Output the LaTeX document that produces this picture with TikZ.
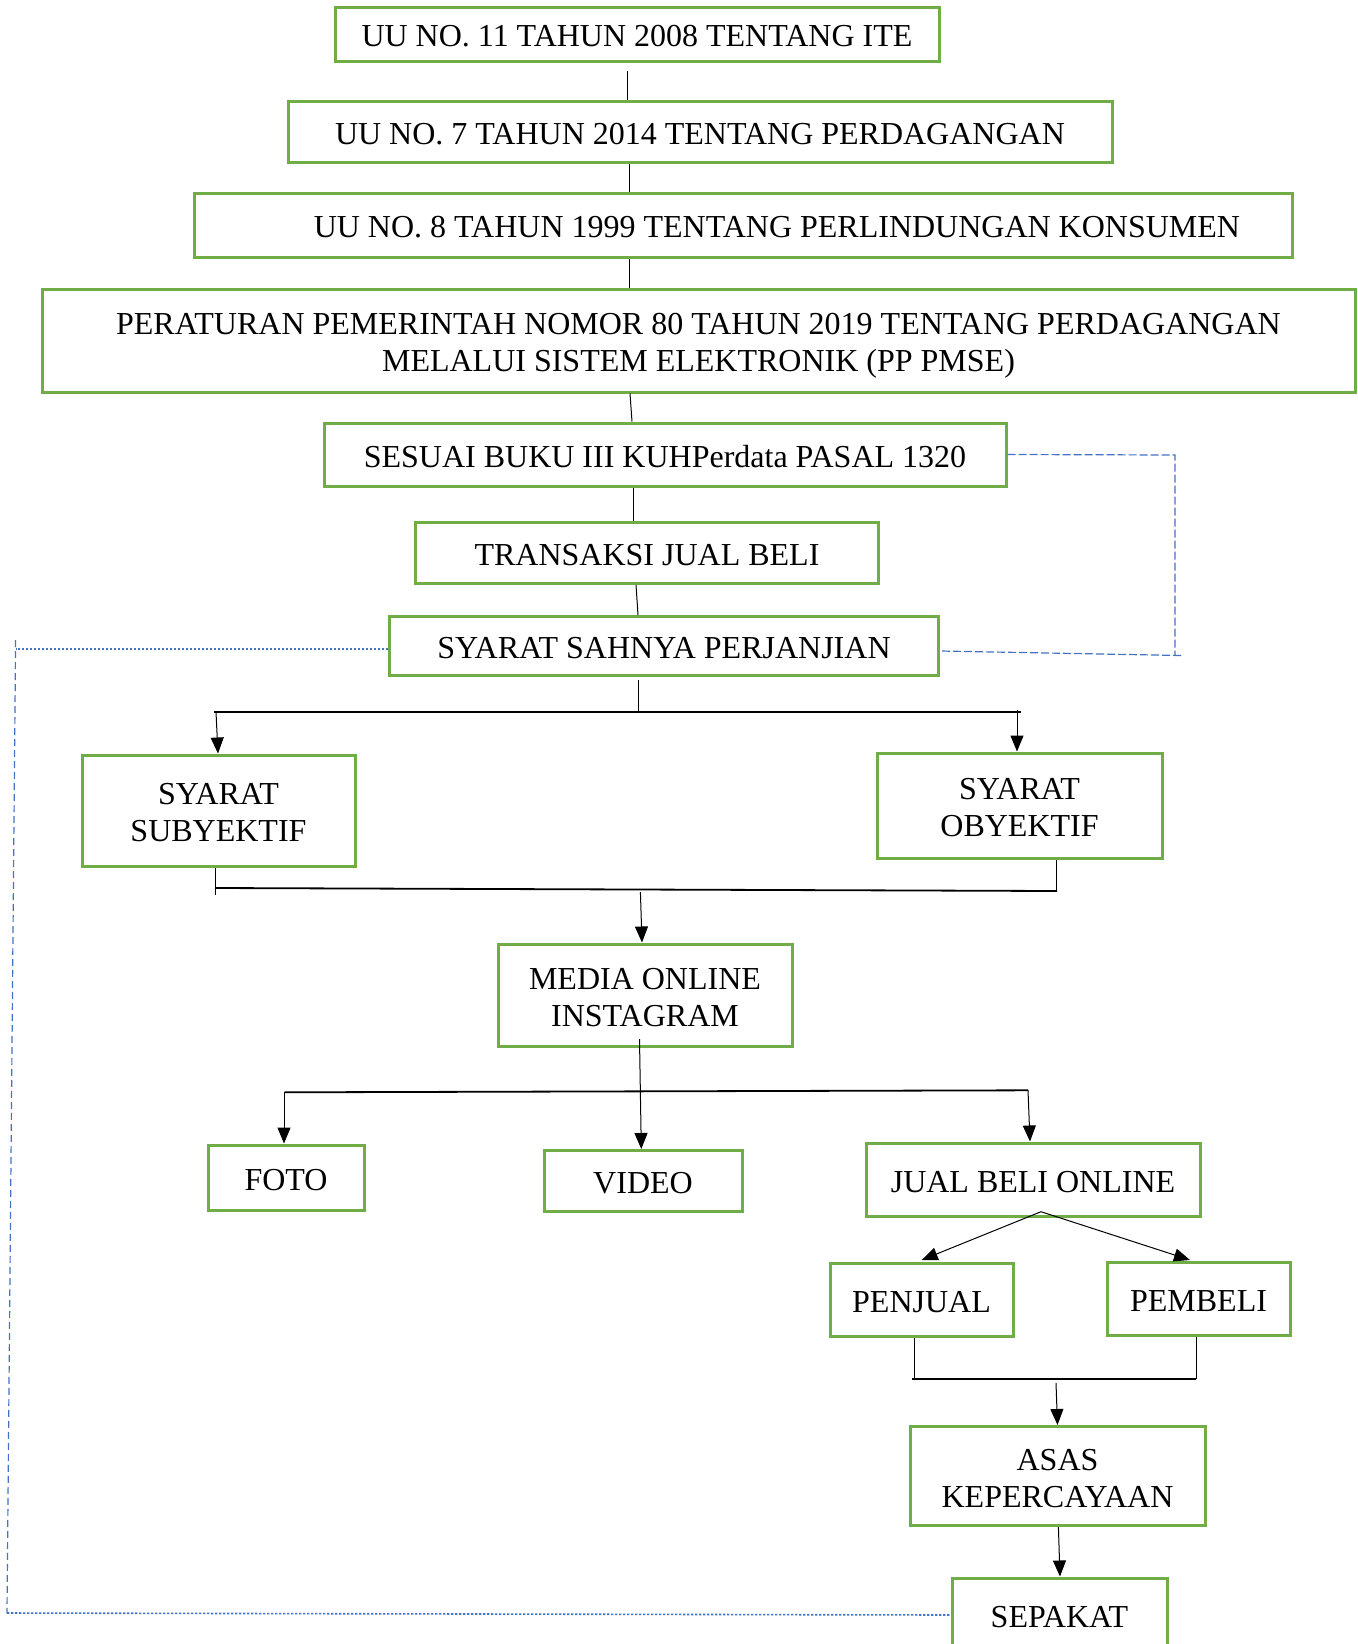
\documentclass[tikz,border=0pt]{standalone}
\usepackage{fontspec}
\setmainfont{Liberation Serif}
\usetikzlibrary{arrows.meta,calc}
\definecolor{boxgreen}{HTML}{70AD47}
\definecolor{dashblue}{HTML}{4472C4}
\begin{document}
\begin{tikzpicture}[x=0.5pt,y=-0.5pt,
  box/.style={draw=boxgreen, line width=1.5pt, inner sep=0pt, align=center, font=\fontsize{16}{18.4}\selectfont, text height=12.6pt, text depth=0pt},
  twoline/.style={text height=31pt, text depth=0pt},
  conn/.style={line width=0.5pt, draw=black},
  arr/.style={conn, -{Triangle[length=8pt,width=6.5pt]}},
  hbar/.style={line width=0.9pt, draw=black},
  bluedash/.style={draw=dashblue, line width=0.6pt, dash pattern=on 4pt off 1.5pt},
  bluedot/.style={draw=dashblue, line width=0.8pt, dash pattern=on 1.2pt off 0.8pt}]
\useasboundingbox (0,0) rectangle (1357,1644);
% boxes
\node[box, minimum width=302pt, minimum height=27pt] (ite) at (637,34) {UU NO. 11 TAHUN 2008 TENTANG ITE};
\node[box, minimum width=412pt, minimum height=30.5pt] (perd) at (700,131.5) {UU NO. 7 TAHUN 2014 TENTANG PERDAGANGAN};
\node[box, minimum width=549pt, minimum height=32pt] (kons) at (743,225) {\hspace*{34pt}UU NO. 8 TAHUN 1999 TENTANG PERLINDUNGAN KONSUMEN};
\node[box, twoline, minimum width=656.5pt, minimum height=51.5pt] (pp) at (698.5,340.5) {PERATURAN PEMERINTAH NOMOR 80 TAHUN 2019 TENTANG PERDAGANGAN\\MELALUI SISTEM ELEKTRONIK (PP PMSE)};
\node[box, minimum width=341pt, minimum height=31.5pt] (sesuai) at (665,454.5) {SESUAI BUKU III KUHPerdata PASAL 1320};
\node[box, minimum width=231.5pt, minimum height=30.5pt] (trans) at (647,553) {TRANSAKSI JUAL BELI};
\node[box, minimum width=274.5pt, minimum height=29.5pt] (sah) at (664,646) {SYARAT SAHNYA PERJANJIAN};
\node[box, twoline, minimum width=136.5pt, minimum height=55.5pt] (subj) at (218.5,810.5) {SYARAT\\SUBYEKTIF};
\node[box, twoline, minimum width=142.5pt, minimum height=52.5pt] (obj) at (1019.5,805.5) {SYARAT\\OBYEKTIF};
\node[box, twoline, minimum width=147pt, minimum height=51pt] (media) at (645,995) {MEDIA ONLINE\\INSTAGRAM};
\node[box, minimum width=78pt, minimum height=32.5pt] (foto) at (286,1177.5) {FOTO};
\node[box, minimum width=99pt, minimum height=30.5pt] (video) at (643,1181) {VIDEO};
\node[box, minimum width=167pt, minimum height=36.5pt] (jbo) at (1033,1179.5) {JUAL BELI ONLINE};
\node[box, minimum width=91.5pt, minimum height=36.5pt] (penjual) at (921.5,1300) {PENJUAL};
\node[box, minimum width=91.5pt, minimum height=36.5pt] (pembeli) at (1198.5,1298.5) {PEMBELI};
\node[box, twoline, minimum width=147.5pt, minimum height=49.5pt] (asas) at (1057.5,1476) {ASAS\\KEPERCAYAAN};
\node[box, minimum width=107.5pt, minimum height=37pt] (sepakat) at (1059.5,1615) {SEPAKAT};
% free ends and junctions
\coordinate (c1) at (627.5,71);
\coordinate (s1) at (638,680);
\coordinate (j1) at (638,712);
\coordinate (b1l) at (214,712);
\coordinate (b1r) at (1021,712);
\coordinate (b2l) at (215,888);
\coordinate (b2r) at (1057,891);
\coordinate (m1) at (640.4,892);
\coordinate (m2) at (639.5,1039);
\coordinate (b3l) at (284.7,1092.3);
\coordinate (b3r) at (1028,1090.3);
\coordinate (sp) at (1041,1211.7);
\coordinate (b4l) at (912,1379);
\coordinate (b4r) at (1196,1379);
\coordinate (a1) at (1056,1383);
% vertical chain
\draw[conn] (c1) -- (627.5,0 |- perd.north);
\draw[conn] (629,0 |- perd.south) -- (629,0 |- kons.north);
\draw[conn] (629,0 |- kons.south) -- (629,0 |- pp.north);
\draw[conn] (630,0 |- pp.south) -- (632,0 |- sesuai.north);
\draw[conn] (633.5,0 |- sesuai.south) -- (633.5,0 |- trans.north);
\draw[conn] (636,0 |- trans.south) -- (638,0 |- sah.north);
% split to syarat
\draw[conn] (s1) -- (j1);
\draw[hbar] (b1l) -- (b1r);
\draw[arr] (216,712) -- (218,0 |- subj.north);
\draw[arr] (1017,710) -- (1017,0 |- obj.north);
% merge to media
\draw[conn] (215.5,0 |- subj.south) -- (215.5,895);
\draw[conn] (1056,0 |- obj.south) -- (1056,891);
\draw[hbar] (b2l) -- (b2r);
\draw[arr] (m1) -- (642,0 |- media.north);
% split from media
\draw[arr] (m2) -- (641.3,0 |- video.north);
\draw[hbar] (b3l) -- (b3r);
\draw[arr] (284,1092) -- (284,0 |- foto.north);
\draw[arr] (1028,1090) -- (1030,0 |- jbo.north);
% jual beli online split
\draw[arr] (sp) -- (921.7,1260);
\draw[arr] (sp) -- (1190,1260);
% merge to asas
\draw[conn] (914,0 |- penjual.south) -- (914,1379);
\draw[conn] (1196,0 |- pembeli.south) -- (1196,1379);
\draw[hbar] (b4l) -- (b4r);
\draw[arr] (a1) -- (1057.5,0 |- asas.north);
\draw[arr] (1058.4,0 |- asas.south) -- (1060,0 |- sepakat.north);
% blue dashed links
\draw[bluedash] (sesuai.east) -- (1175,455) -- (1175,655.5);
\draw[bluedash] (1181,655.5) -- ([yshift=-2.5pt]sah.east);
\draw[bluedot] ([yshift=-1.5pt]sah.west) -- (15.6,649);
\draw[draw=dashblue, line width=0.6pt, dash pattern=on 3.5pt off 2pt] (15.6,640) -- (7,1613);
\draw[bluedot] (7,1613) -- (sepakat.west);
\end{tikzpicture}
\end{document}
